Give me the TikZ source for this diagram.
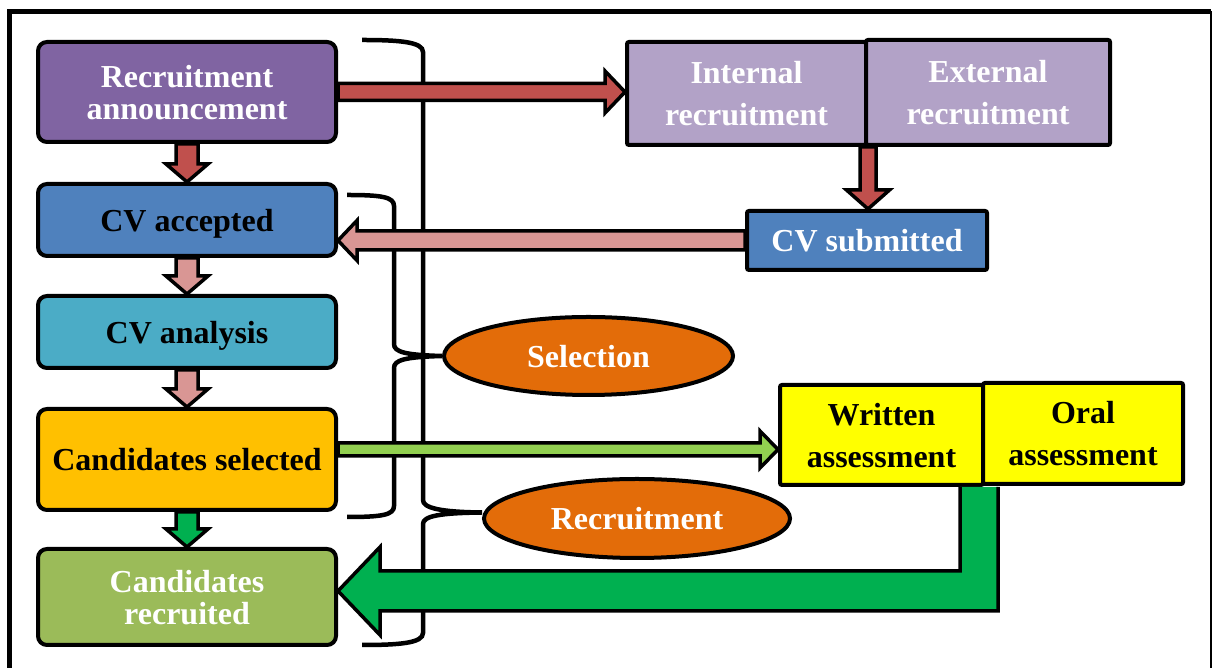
\documentclass[tikz,border=0pt]{standalone}
\usepackage{fontspec}
\setmainfont{Liberation Serif}
\usetikzlibrary{shapes.geometric,calc}

\definecolor{purpleA}{HTML}{8064A2}
\definecolor{lilac}{HTML}{B2A2C7}
\definecolor{blueA}{HTML}{4F81BD}
\definecolor{aquaA}{HTML}{4BACC6}
\definecolor{goldA}{HTML}{FFC000}
\definecolor{oliveA}{HTML}{9BBB59}
\definecolor{redA}{HTML}{C0504D}
\definecolor{pinkA}{HTML}{D99694}
\definecolor{greenA}{HTML}{00B050}
\definecolor{limeA}{HTML}{92D050}
\definecolor{orangeA}{HTML}{E36C09}
\definecolor{yellowA}{HTML}{FFFF00}

\pgfdeclarelayer{back}
\pgfsetlayers{back,main}

\tikzset{
  leftbox/.style={draw=black, line width=4pt, rounded corners=9pt,
    minimum width=298pt, inner sep=0pt, align=center, text depth=0pt,
    font=\bfseries\fontsize{32}{32}\selectfont},
  rightbox/.style={draw=black, line width=4pt, rounded corners=2pt,
    inner sep=0pt, align=center, text depth=0pt,
    font=\bfseries\fontsize{32}{42}\selectfont},
  oval/.style={ellipse, draw=black, line width=4pt, fill=orangeA,
    text=white, inner sep=0pt, text depth=0pt,
    font=\bfseries\fontsize{32}{32}\selectfont},
  brace/.style={draw=black, line width=4.5pt},
  % block arrow: shaft half width, head half width, head length
  baw/.store in=\baw, bah/.store in=\bah, bal/.store in=\bal,
  baw=11pt, bah=21pt, bal=18pt,
  blockarrow/.style={draw=black, line width=3.5pt, line join=miter, miter limit=10,
    to path={let \p1=(\tikztostart), \p2=(\tikztotarget),
      \n1={atan2(\y2-\y1,\x2-\x1)} in
      ($(\p1)+(\n1+90:\baw)$)
      -- ($(\p2)+(\n1+180:\bal)+(\n1+90:\baw)$)
      -- ($(\p2)+(\n1+180:\bal)+(\n1+90:\bah)$)
      -- (\p2)
      -- ($(\p2)+(\n1+180:\bal)+(\n1-90:\bah)$)
      -- ($(\p2)+(\n1+180:\bal)+(\n1-90:\baw)$)
      -- ($(\p1)+(\n1-90:\baw)$) -- cycle}},
}

\begin{document}
\begin{tikzpicture}[x=1pt,y=1pt]
\useasboundingbox (0,0) rectangle (1212,668);

% outer frame
\draw[line width=5pt] (9.5,0) -- (9.5,656.5) -- (1211,656.5);
\draw[line width=1.5pt] (1211,656.5) -- (1211,0);

% process column
\node[leftbox, fill=purpleA, text=white, minimum height=100pt] (ann) at (187,576) {Recruitment\\announcement};
\node[leftbox, fill=blueA, minimum height=72pt] (cvacc) at (187,448) {CV accepted};
\node[leftbox, fill=aquaA, minimum height=72pt] (cvana) at (187,336) {CV analysis};
\node[leftbox, fill=goldA, minimum height=101pt] (candsel) at (187,208.5) {Candidates selected};
\node[leftbox, fill=oliveA, text=white, minimum height=96pt] (candrec) at (187,71) {Candidates\\recruited};

% sources and assessments
\node[rightbox, fill=lilac, text=white, minimum width=239pt, minimum height=103pt] (internal) at (746.5,574.5) {Internal\\recruitment};
\node[rightbox, fill=lilac, text=white, minimum width=244pt, minimum height=105pt] (external) at (988,575.5) {External\\recruitment};
\node[rightbox, fill=blueA, text=white, minimum width=240pt, minimum height=59pt] (cvsub) at (867,427.5) {CV submitted};
\node[rightbox, fill=yellowA, minimum width=203pt, minimum height=100pt] (written) at (881.5,233) {Written\\assessment};
\node[rightbox, fill=yellowA, minimum width=200pt, minimum height=101pt] (oral) at (1083,234.5) {Oral\\assessment};

% phases
\node[oval, minimum width=289pt, minimum height=78pt] (sel) at (588.5,312) {Selection};
\node[oval, minimum width=306pt, minimum height=79pt] (rec) at (637,149.5) {Recruitment};

% braces grouping the phases
\begin{pgfonlayer}{back}
\draw[brace] (347,473) .. controls (382,473) and (394,471) .. (394,462)
  -- (394,324) .. controls (394,316) and (405,313) .. (sel.west)
  .. controls (405,311) and (394,308) .. (394,300)
  -- (394,162) .. controls (394,153) and (382,151) .. (347,151);
\coordinate (rtip) at ([yshift=6pt]rec.west);
\draw[brace] (362,628) .. controls (400,628) and (423,626) .. (423,616)
  -- (423,168) .. controls (423,160) and (440,156) .. (rtip)
  .. controls (440,155) and (423,152) .. (423,144)
  -- (423,35) .. controls (423,25) and (400,23) .. (362,23);
\end{pgfonlayer}

% arrows down the process column
\draw[blockarrow, fill=redA] (ann.south) to (cvacc.north);
\draw[blockarrow, fill=pinkA] (cvacc.south) to (cvana.north);
\draw[blockarrow, fill=pinkA] (cvana.south) to (candsel.north);
\draw[blockarrow, fill=greenA] (candsel.south) to (candrec.north);

% announcement to the recruitment sources
\draw[blockarrow, fill=redA, baw=8.5pt, bah=21pt, bal=20pt] (ann.east) to (internal.west |- ann.east);
% sources to submitted CVs
\draw[blockarrow, fill=redA, baw=8pt, bah=21.5pt, bal=19pt] (internal.south east) to (internal.south east |- cvsub.north);
% submitted CVs back to accepted
\draw[blockarrow, fill=pinkA, baw=9.5pt, bah=20pt, bal=19pt] (cvsub.west) to (cvacc.east |- cvsub.west);
% selected candidates to assessments
\coordinate (gstart) at ([yshift=10pt]candsel.east);
\draw[blockarrow, fill=limeA, baw=6.5pt, bah=18.5pt, bal=18pt] (gstart) to (written.west |- gstart);

% assessments back to recruited candidates
\coordinate (gdown) at ([xshift=-6pt]written.south east);
\coordinate (gtip) at ([yshift=6pt]candrec.east);
\fill[greenA] let \p1=(gdown), \p2=(gtip) in
  (\x1-19pt,\y1) -- (\x1-19pt,\y2+20pt) -- (\x2+42pt,\y2+20pt) -- (\x2+42pt,\y2+44pt)
  -- (\p2) -- (\x2+42pt,\y2-44pt) -- (\x2+42pt,\y2-20pt) -- (\x1+19pt,\y2-20pt)
  -- (\x1+19pt,\y1) -- cycle;
\draw[line width=3.5pt, line join=miter, miter limit=10] let \p1=(gdown), \p2=(gtip) in
  (\x1-19pt,\y1) -- (\x1-19pt,\y2+20pt) -- (\x2+42pt,\y2+20pt) -- (\x2+42pt,\y2+44pt)
  -- (\p2) -- (\x2+42pt,\y2-44pt) -- (\x2+42pt,\y2-20pt) -- (\x1+19pt,\y2-20pt)
  -- (\x1+19pt,\y1);
\end{tikzpicture}
\end{document}
